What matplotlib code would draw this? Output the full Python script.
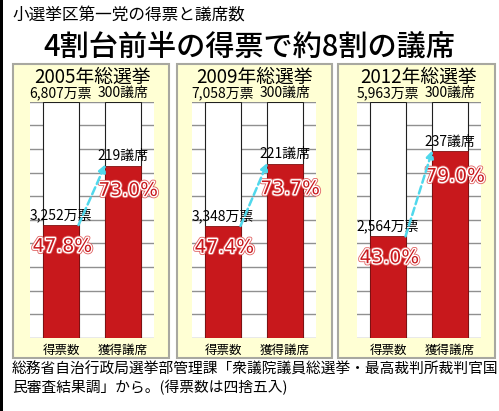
import matplotlib
matplotlib.use("Agg")
import matplotlib.pyplot as plt
from matplotlib.patches import Rectangle
import matplotlib.patheffects as pe

plt.rcParams['font.family'] = ['Noto Sans CJK JP', 'DejaVu Sans']

# ---- data ----
elections = ['2005年総選挙', '2009年総選挙', '2012年総選挙']
total_votes = ['6,807万票', '7,058万票', '5,963万票']
total_seats = ['300議席', '300議席', '300議席']
vote_labels = ['3,252万票', '3,348万票', '2,564万票']
vote_share = [47.8, 47.4, 43.0]
seat_labels = ['219議席', '221議席', '237議席']
seat_share = [73.0, 73.7, 79.0]
categories = ['得票数', '獲得議席']
full_scale = 100

W, H = 499, 411
fig = plt.figure(figsize=(W / 100, H / 100), dpi=100)
fig.patch.set_facecolor('white')

# background layer in pixel coordinates
bg = fig.add_axes([0, 0, 1, 1])
bg.set_xlim(0, W)
bg.set_ylim(H, 0)
bg.axis('off')
bg.add_patch(Rectangle((0, 0), 3, H, facecolor='black', edgecolor='none'))

bg.text(12, 16, '小選挙区第一党の得票と議席数', fontsize=12, va='center', ha='left')
bg.text(249, 47, '4割台前半の得票で約8割の議席', fontsize=21, va='center',
        ha='center', weight='medium')
bg.text(12, 370, '総務省自治行政局選挙部管理課「衆議院議員総選挙・最高裁判所裁判官国',
        fontsize=10.6, va='center', ha='left')
bg.text(12, 388, '民審査結果調」から。(得票数は四捨五入)',
        fontsize=10.6, va='center', ha='left')

panel_lr = [(13, 169), (177, 332), (338, 495)]
plot_left = [30, 192, 357]
plot_w = 124
plot_top, plot_bot = 101.7, 338

panel_color = '#FFFFD4'
red = '#C8181C'

for i in range(3):
    l, r = panel_lr[i]
    bg.add_patch(Rectangle((l, 64), r - l, 294, facecolor=panel_color,
                           edgecolor='#A8A8A0', lw=1.5))

    ax = fig.add_axes([plot_left[i] / W, 1 - plot_bot / H,
                       plot_w / W, (plot_bot - plot_top) / H])
    ax.set_facecolor('white')
    ax.set_xlim(-0.5, 1.5)
    ax.set_ylim(0, full_scale)
    for s in ax.spines.values():
        s.set_visible(False)
    ax.set_yticks([])
    for g in range(0, 101, 10):
        ax.axhline(g, color='#909090', lw=1, zorder=1)

    x = [0, 1]
    bw = 0.565
    ax.bar(x, [full_scale, full_scale], width=bw, color='white',
           edgecolor='#202020', lw=0.8, zorder=2)
    ax.bar(x, [vote_share[i], seat_share[i]], width=bw, color=red,
           edgecolor='#801010', lw=0.6, zorder=3)

    ax.set_xticks(x, categories)
    ax.tick_params(axis='x', length=0, pad=4, labelsize=9)

    # headers
    ax.text(0.5, 110.5, elections[i], ha='center', va='center', fontsize=13.5,
            clip_on=False)
    ax.text(0, 103.6, total_votes[i], ha='center', va='center', fontsize=10,
            clip_on=False)
    ax.text(1, 103.6, total_seats[i], ha='center', va='center', fontsize=10,
            clip_on=False)

    # value labels
    ax.text(0, vote_share[i] + 1.2, vote_labels[i], ha='center', va='bottom',
            fontsize=10, zorder=5)
    ax.text(1, seat_share[i] + 1.2, seat_labels[i], ha='center', va='bottom',
            fontsize=10, zorder=5)

    effects = [pe.Stroke(linewidth=3.2, foreground='#E06060'),
               pe.Stroke(linewidth=2.0, foreground='white'), pe.Normal()]
    ax.text(0.02, vote_share[i] - 9, f'{vote_share[i]:.1f}%', ha='center',
            va='center', fontsize=13.5, color=red, zorder=6,
            family='DejaVu Sans', path_effects=effects, clip_on=False)
    ax.text(1.08, seat_share[i] - 10.5, f'{seat_share[i]:.1f}%', ha='center',
            va='center', fontsize=13.5, color=red, zorder=6,
            family='DejaVu Sans', path_effects=effects, clip_on=False)

    # arrow from top of vote bar to top of seat bar
    ax.annotate('', xy=(1 - bw / 2, seat_share[i] + 0.5),
                xytext=(bw / 2, vote_share[i]),
                arrowprops=dict(arrowstyle='-|>', color='#50D8EC', lw=1.8,
                                linestyle=(0, (3, 1.5)), mutation_scale=11,
                                shrinkA=0, shrinkB=0),
                zorder=7)

fig.savefig('out.png', dpi=100, facecolor='white')
